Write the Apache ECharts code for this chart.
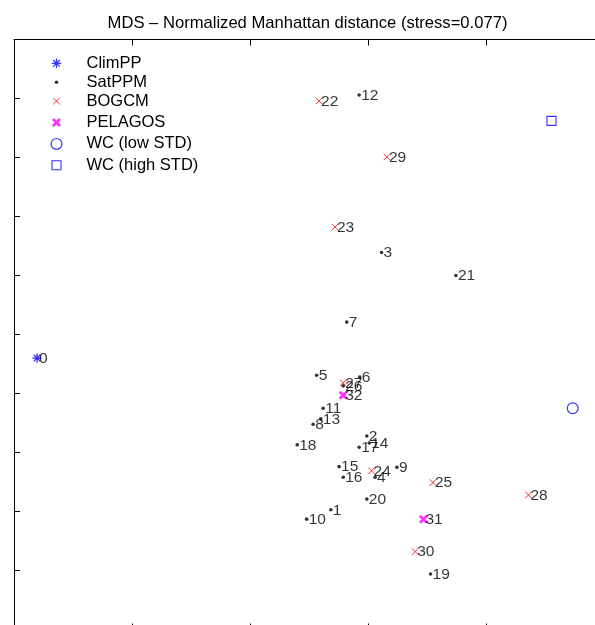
<!DOCTYPE html>
<html>
<head>
<meta charset="utf-8">
<script src="https://cdn.jsdelivr.net/npm/echarts@6/dist/echarts.min.js"></script>
<style>
  html, body { margin: 0; padding: 0; background: #fff; overflow: hidden; }
  #chart { width: 612px; height: 640px; }
</style>
</head>
<body>
<div id="chart"></div>
<script>
// MDS embedding coordinates (arbitrary units), one array pair per model group
const climNames = ['0'];
const climX = [0.39];
const climY = [4.60];

const satNames = ['12', '3', '21', '7', '5', '6', '26', '11', '13', '8', '18', '2', '17', '14', '15', '16', '4', '9', '20', '1', '10', '19'];
const satX = [5.85, 6.23, 7.49, 5.64, 5.13, 5.86, 5.58, 5.24, 5.20, 5.07, 4.80, 5.98, 5.85, 6.02, 5.51, 5.58, 6.12, 6.49, 5.98, 5.37, 4.96, 7.06];
const satY = [9.06, 6.39, 6.00, 5.21, 4.31, 4.28, 4.13, 3.75, 3.57, 3.48, 3.13, 3.28, 3.09, 3.16, 2.76, 2.58, 2.58, 2.75, 2.21, 2.03, 1.87, 0.94];

const bogNames = ['22', '29', '23', '27', '24', '25', '28', '30'];
const bogX = [5.17, 6.32, 5.44, 5.58, 6.06, 7.10, 8.72, 6.80];
const bogY = [8.96, 8.01, 6.82, 4.18, 2.69, 2.49, 2.28, 1.32];

const pelNames = ['32', '31'];
const pelX = [5.58, 6.94];
const pelY = [3.97, 1.87];

const wcLowX = [9.47];
const wcLowY = [3.75];
const wcHighX = [9.11];
const wcHighY = [8.62];

const seriesNames = ['ClimPP', 'SatPPM', 'BOGCM', 'PELAGOS', 'WC (low STD)', 'WC (high STD)'];
const titleText = 'MDS \u2013 Normalized Manhattan distance (stress=0.077)';

// Marker glyphs drawn in a 20x20 box so that one path unit is one pixel
const PAD = 'M0 0M20 20';
const ICONS = {
  star: 'path://' + PAD + 'M5.3 10L14.7 10M10 5.3L10 14.7M6.7 6.7L13.3 13.3M13.3 6.7L6.7 13.3',
  dot: 'path://' + PAD + 'M8.2 10A1.8 1.8 0 1 0 11.8 10A1.8 1.8 0 1 0 8.2 10Z',
  cross: 'path://' + PAD + 'M6.7 6.7L13.3 13.3M13.3 6.7L6.7 13.3',
  bold: 'path://' + PAD + 'M6.5 6.5L13.5 13.5M13.5 6.5L6.5 13.5',
  circle: 'path://' + PAD + 'M4.6 10A5.4 5.4 0 1 0 15.4 10A5.4 5.4 0 1 0 4.6 10Z',
  square: 'path://' + PAD + 'M5.5 5.5L14.5 5.5L14.5 14.5L5.5 14.5Z'
};

const STYLES = [
  { color: 'none', borderColor: '#0000ff', borderWidth: 1.3 },
  { color: '#000000', borderColor: 'none', borderWidth: 0 },
  { color: 'none', borderColor: '#ff0000', borderWidth: 1 },
  { color: 'none', borderColor: '#ff00ff', borderWidth: 2.8 },
  { color: 'none', borderColor: '#0000ff', borderWidth: 1.2 },
  { color: 'none', borderColor: '#0000ff', borderWidth: 1.1 }
];
const SYMBOLS = [ICONS.star, ICONS.dot, ICONS.cross, ICONS.bold, ICONS.circle, ICONS.square];

const FONT = '"Liberation Sans", Arial, Helvetica, sans-serif';

function pts(xs, ys, names) {
  return xs.map((x, i) => ({ value: [x, ys[i]], name: names ? names[i] : '' }));
}

const pointLabel = {
  show: true,
  position: 'inside',
  align: 'left',
  verticalAlign: 'middle',
  offset: [2, 0.5],
  formatter: p => p.name,
  color: '#000',
  fontSize: 15.5,
  fontFamily: FONT,
  textBorderWidth: 0
};

const groups = [
  pts(climX, climY, climNames),
  pts(satX, satY, satNames),
  pts(bogX, bogY, bogNames),
  pts(pelX, pelY, pelNames),
  pts(wcLowX, wcLowY, null),
  pts(wcHighX, wcHighY, null)
];

const series = groups.map((data, i) => ({
  name: seriesNames[i],
  type: 'scatter',
  data: data,
  symbol: SYMBOLS[i],
  symbolSize: 20,
  symbolKeepAspect: true,
  itemStyle: STYLES[i],
  label: i < 4 ? pointLabel : { show: false },
  emphasis: { disabled: true },
  silent: true
}));

const axisCommon = {
  type: 'value',
  min: 0,
  max: 10,
  axisLine: { show: true, onZero: false, lineStyle: { color: '#000', width: 1 } },
  axisTick: { show: true, inside: true, length: 6, lineStyle: { color: '#000', width: 1 } },
  axisLabel: { show: false },
  splitLine: { show: false }
};

const chart = echarts.init(document.getElementById('chart'), null, { renderer: 'canvas' });
chart.setOption({
  animation: false,
  backgroundColor: '#fff',
  title: {
    text: titleText,
    left: 307.5,
    textAlign: 'center',
    top: 15,
    padding: 0,
    textStyle: { fontSize: 16.6, fontWeight: 'normal', color: '#000', fontFamily: FONT }
  },
  legend: {
    left: 44,
    top: 50.8,
    padding: 0,
    orient: 'vertical',
    itemWidth: 50,
    itemHeight: 20,
    itemGap: -3.6,
    selectedMode: false,
    textStyle: { fontSize: 16.5, lineHeight: 20, color: '#000', fontFamily: FONT, padding: 0 },
    data: seriesNames.map((n, i) => ({ name: n, icon: SYMBOLS[i], itemStyle: STYLES[i] }))
  },
  grid: { left: 14, top: 39.5, width: 590, height: 590, containLabel: false },
  xAxis: [
    Object.assign({}, axisCommon, { position: 'bottom', interval: 2 }),
    Object.assign({}, axisCommon, { position: 'top', interval: 2 })
  ],
  yAxis: [
    Object.assign({}, axisCommon, { position: 'left', interval: 1 })
  ],
  series: series
});
</script>
</body>
</html>
